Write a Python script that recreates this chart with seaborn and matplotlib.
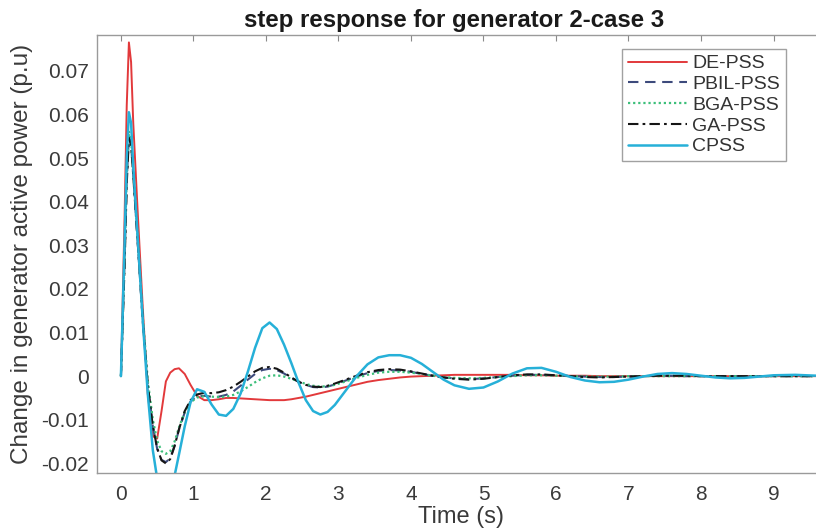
import matplotlib
matplotlib.use("Agg")
import numpy as np
import pandas as pd
import seaborn as sns
import matplotlib.pyplot as plt

# ---------------- data ----------------
time_s = [0, 0.05, 0.08, 0.11, 0.14, 0.17, 0.23, 0.3, 0.37, 0.44, 0.5, 0.56,
          0.62, 0.68, 0.74, 0.8, 0.88, 0.96, 1.05, 1.15, 1.25, 1.35,
          1.45, 1.55, 1.65, 1.75, 1.85, 1.95, 2.05, 2.15, 2.25, 2.35,
          2.45, 2.55, 2.65, 2.75, 2.85, 2.95, 3.1, 3.25, 3.4, 3.55,
          3.7, 3.85, 4.0, 4.15, 4.3, 4.45, 4.6, 4.8, 5.0, 5.2,
          5.4, 5.6, 5.8, 6.0, 6.2, 6.4, 6.6, 6.8, 7.0, 7.2,
          7.4, 7.6, 7.8, 8.0, 8.2, 8.4, 8.6, 8.8, 9.0, 9.3,
          9.6, 10.0]

de_pss = [0, 0.036, 0.062, 0.0765, 0.072, 0.058, 0.038, 0.016, -0.004, -0.0138, -0.0143, -0.0080,
          -0.0012, 0.0008, 0.0016, 0.0018, 0.0005, -0.0020, -0.0045, -0.0055, -0.0055, -0.0053,
          -0.0050, -0.0050, -0.0051, -0.0052, -0.0053, -0.0054, -0.0055, -0.0055, -0.0055, -0.0053,
          -0.0050, -0.0047, -0.0043, -0.0039, -0.0035, -0.0031, -0.0025, -0.0019, -0.0013, -0.0009,
          -0.0006, -0.0003, -0.0001, 0.0, 0.0001, 0.0002, 0.0003, 0.0003, 0.0003, 0.0003,
          0.0003, 0.0002, 0.0002, 0.0001, 0.0001, 0.0001, 0.0, 0.0, 0.0, 0.0,
          0.0, 0.0, 0.0, 0.0, 0.0, 0.0, 0.0, 0.0, 0.0, 0.0,
          0.0, 0.0]

pbil_pss = [0, 0.026, 0.045, 0.0550, 0.053, 0.046, 0.031, 0.013, -0.002, -0.0115, -0.0167, -0.0192,
            -0.0197, -0.0188, -0.0160, -0.0123, -0.0083, -0.0058, -0.0046, -0.0045, -0.0047, -0.0047,
            -0.0043, -0.0035, -0.0022, -0.0008, 0.0005, 0.0014, 0.0017, 0.0014, 0.0006, -0.0004,
            -0.0013, -0.0020, -0.0025, -0.0026, -0.0024, -0.0019, -0.0010, -0.0001, 0.0007, 0.0012,
            0.0014, 0.0013, 0.0010, 0.0005, 0.0001, -0.0003, -0.0005, -0.0007, -0.0005, -0.0002,
            0.0001, 0.0003, 0.0003, 0.0002, 0.0, -0.0001, -0.0002, -0.0002, -0.0001, 0.0,
            0.0001, 0.0001, 0.0, 0.0, 0.0, 0.0, 0.0, 0.0, 0.0, 0.0,
            0.0, 0.0]

bga_pss = [0, 0.027, 0.046, 0.0562, 0.054, 0.047, 0.032, 0.014, -0.001, -0.010, -0.0148, -0.0172,
           -0.0178, -0.0172, -0.0150, -0.0118, -0.0082, -0.0060, -0.0049, -0.0046, -0.0047, -0.0048,
           -0.0047, -0.0043, -0.0035, -0.0025, -0.0014, -0.0005, 0.0001, 0.0002, -0.0001, -0.0006,
           -0.0012, -0.0018, -0.0022, -0.0024, -0.0023, -0.0020, -0.0012, -0.0004, 0.0003, 0.0008,
           0.0010, 0.0010, 0.0008, 0.0005, 0.0001, -0.0002, -0.0004, -0.0005, -0.0004, -0.0002,
           0.0, 0.0002, 0.0002, 0.0001, 0.0, -0.0001, -0.0001, -0.0001, 0.0, 0.0,
           0.0, 0.0, 0.0, 0.0, 0.0, 0.0, 0.0, 0.0, 0.0, 0.0,
           0.0, 0.0]

ga_pss = [0, 0.025, 0.044, 0.0546, 0.053, 0.046, 0.031, 0.013, -0.002, -0.0115, -0.0165, -0.0193,
          -0.0200, -0.0190, -0.0160, -0.0122, -0.0080, -0.0055, -0.0042, -0.0038, -0.0039, -0.0037,
          -0.0032, -0.0024, -0.0013, -0.0001, 0.0011, 0.0019, 0.0021, 0.0017, 0.0008, -0.0003,
          -0.0013, -0.0020, -0.0024, -0.0025, -0.0022, -0.0017, -0.0008, 0.0001, 0.0009, 0.0014,
          0.0016, 0.0015, 0.0011, 0.0006, 0.0001, -0.0003, -0.0006, -0.0008, -0.0006, -0.0002,
          0.0002, 0.0004, 0.0004, 0.0002, 0.0, -0.0002, -0.0003, -0.0002, -0.0001, 0.0,
          0.0001, 0.0001, 0.0001, 0.0, 0.0, 0.0, 0.0, 0.0, 0.0, 0.0,
          0.0, 0.0]

cpss = [0, 0.030, 0.050, 0.0605, 0.058, 0.048, 0.032, 0.013, -0.004, -0.017, -0.0235, -0.0262,
        -0.0265, -0.0255, -0.0228, -0.0180, -0.0115, -0.0060, -0.0030, -0.0036, -0.0065, -0.0088,
        -0.0091, -0.0075, -0.0040, 0.0010, 0.0065, 0.0110, 0.0123, 0.0108, 0.0072, 0.0030,
        -0.0015, -0.0055, -0.0080, -0.0088, -0.0082, -0.0066, -0.0033, 0.0000, 0.0027, 0.0043,
        0.0048, 0.0048, 0.0042, 0.0028, 0.0010, -0.0008, -0.0021, -0.0029, -0.0026, -0.0012,
        0.0006, 0.0018, 0.0019, 0.0010, -0.0002, -0.0010, -0.0014, -0.0013, -0.0008, -0.0001,
        0.0005, 0.0007, 0.0005, 0.0001, -0.0003, -0.0005, -0.0004, -0.0001, 0.0002, 0.0003,
        0.0001, 0.0]

series_names = ["DE-PSS", "PBIL-PSS", "BGA-PSS", "GA-PSS", "CPSS"]
x_ticks = [0, 1, 2, 3, 4, 5, 6, 7, 8, 9]
x_tick_labels = ["0", "1", "2", "3", "4", "5", "6", "7", "8", "9"]
y_ticks = [-0.02, -0.01, 0, 0.01, 0.02, 0.03, 0.04, 0.05, 0.06, 0.07]
y_tick_labels = ["-0.02", "-0.01", "0", "0.01", "0.02", "0.03", "0.04", "0.05", "0.06", "0.07"]

# ---------------- styling ----------------
sns.set_theme(style="white")
plt.rcParams["font.family"] = ["Liberation Sans", "DejaVu Sans"]

styles = {
    "DE-PSS":   dict(color="#e2393b", linestyle="-", linewidth=1.4),
    "PBIL-PSS": dict(color="#3d4a7c", linestyle=(0, (5, 3.2)), linewidth=1.5),
    "BGA-PSS":  dict(color="#3cbf7a", linestyle=(0, (1, 1.3)), linewidth=1.6),
    "GA-PSS":   dict(color="#151515", linestyle=(0, (5, 2, 1.3, 2)), linewidth=1.5),
    "CPSS":     dict(color="#26b0d8", linestyle="-", linewidth=1.8),
}

fig = plt.figure(figsize=(8.16, 5.31), dpi=100)
ax = fig.add_axes([97 / 816, 58 / 531, (825 - 97) / 816, (473 - 35) / 531])

values = [de_pss, pbil_pss, bga_pss, ga_pss, cpss]
for name, vals in zip(series_names, values):
    df = pd.DataFrame({"t": time_s, "v": vals})
    sns.lineplot(data=df, x="t", y="v", ax=ax, label=name, sort=False,
                 estimator=None, **styles[name])

ax.set_xlim(-0.33, 9.71)
ax.set_ylim(-0.0222, 0.0782)
ax.set_xticks(x_ticks)
ax.set_xticklabels(x_tick_labels)
ax.set_yticks(y_ticks)
ax.set_yticklabels(y_tick_labels)

ax.tick_params(axis="both", direction="in", top=True, right=True, length=4,
               width=0.8, color="#8a8a8a", labelsize=15, labelcolor="#3a3a3a")
ax.tick_params(axis="y", pad=6)
ax.tick_params(axis="x", pad=9)
for sp in ax.spines.values():
    sp.set_color("#9a9a9a")
    sp.set_linewidth(1.0)

ax.set_xlabel("Time (s)", fontsize=17, color="#3a3a3a")
ax.set_ylabel("Change in generator active power (p.u)", fontsize=17.5, color="#3a3a3a")
ax.xaxis.set_label_coords(0.5, -0.076)
ax.yaxis.set_label_coords(-0.088, 0.5)
ax.set_title("step response for generator 2-case 3", fontsize=17.3,
             fontweight="bold", color="#1a1a1a", pad=6, x=0.49)

leg = ax.legend(loc="upper right", bbox_to_anchor=(786 / 816, (531 - 49) / 531),
                bbox_transform=fig.transFigure, borderaxespad=0, fontsize=14,
                frameon=True, fancybox=False, handlelength=3.0, handletextpad=0.3,
                labelspacing=0.16, borderpad=0.3)
leg.get_frame().set_edgecolor("#8a8a8a")
leg.get_frame().set_linewidth(1.0)
for txt in leg.get_texts():
    txt.set_color("#333333")

fig.savefig("out.png", dpi=100)
